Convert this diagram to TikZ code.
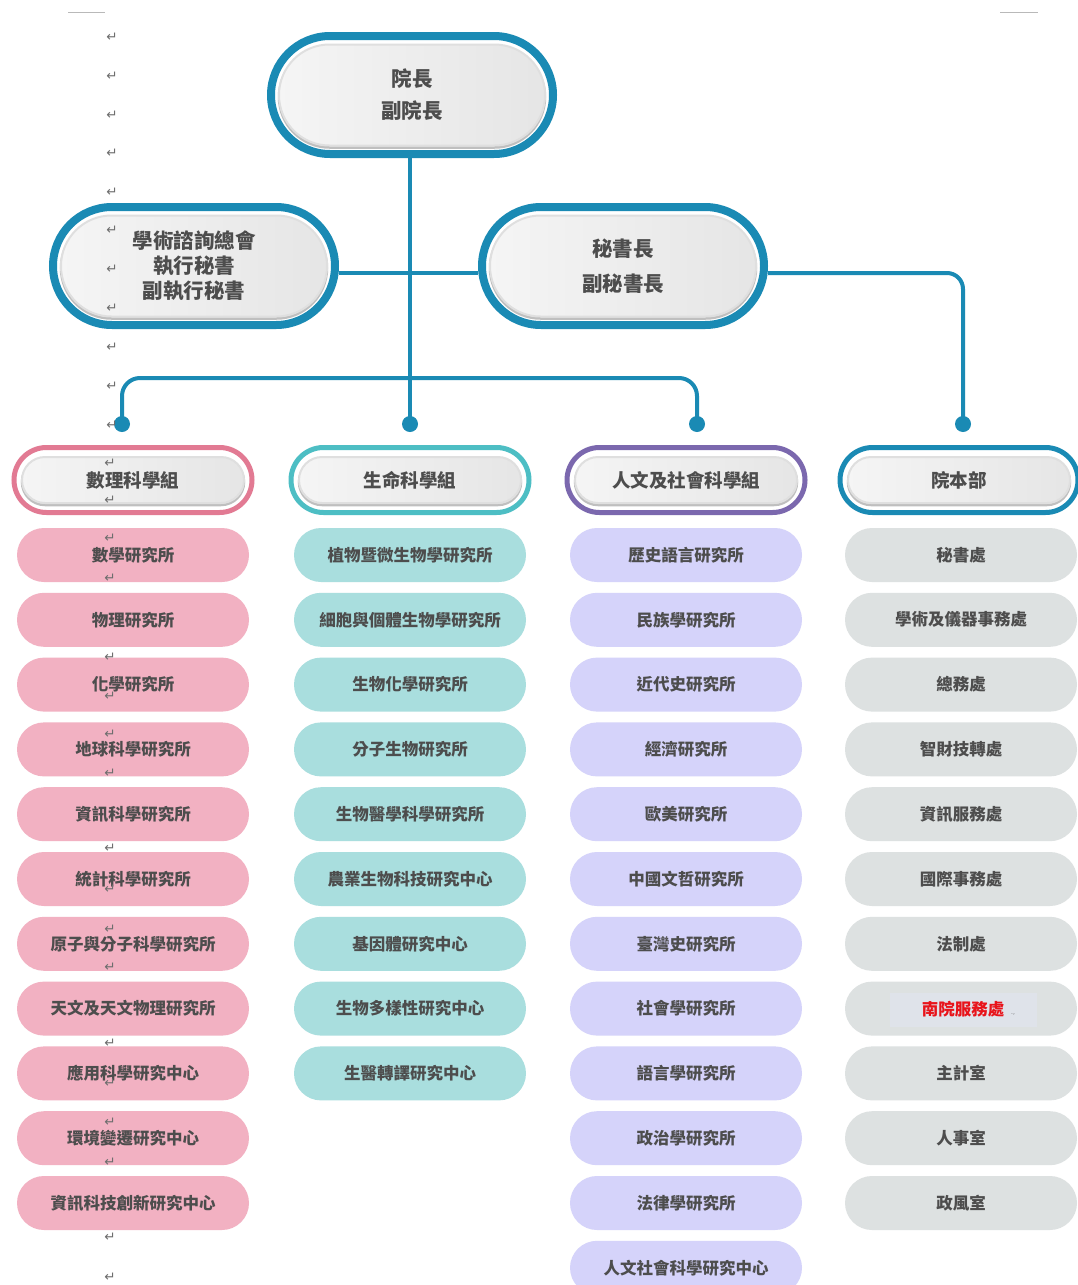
\documentclass[tikz,border=0pt]{standalone}
\usepackage{fontspec}
\newfontfamily\cjk{Noto Sans CJK TC}
\newfontfamily\symfont{DejaVu Sans}
\usetikzlibrary{shapes.misc,backgrounds}

\definecolor{lineblue}{HTML}{1A8AB4}
\definecolor{pinkline}{HTML}{E27A93}
\definecolor{pinkfill}{HTML}{F2B1C2}
\definecolor{tealline}{HTML}{4DBEC4}
\definecolor{tealfill}{HTML}{A9DEDE}
\definecolor{purpline}{HTML}{7B68AE}
\definecolor{purpfill}{HTML}{D5D3FA}
\definecolor{grayfill}{HTML}{DDE1E1}
\definecolor{txtgray}{HTML}{4D4D4D}
\definecolor{markgray}{HTML}{6E6E6E}
\definecolor{hlbox}{HTML}{DFE3EA}
\definecolor{redtxt}{HTML}{E8141B}

\tikzset{
  conn/.style={draw=lineblue, line width=4pt},
  junction/.style={circle, fill=lineblue, minimum size=16pt, inner sep=0pt},
  glossy/.style={rounded rectangle, inner sep=0pt, draw=gray!25, line width=2pt,
    left color=gray!8, middle color=white, right color=gray!20,
    preaction={draw=gray!50, line width=2.5pt, transform canvas={yshift=-2pt}}},
  chiefring/.style={rounded rectangle, draw=lineblue, line width=8pt, fill=white,
    minimum width=282pt, minimum height=118pt, inner sep=0pt},
  chiefcore/.style={glossy, minimum width=266pt, minimum height=101pt, align=center,
    text=txtgray, font=\cjk\bfseries\fontsize{20.5}{32}\selectfont},
  grpring/.style={rounded rectangle, line width=5pt, fill=white,
    minimum width=238pt, minimum height=65pt, inner sep=0pt},
  grpcore/.style={glossy, minimum width=222pt, minimum height=46pt,
    text=txtgray, font=\cjk\bfseries\fontsize{18.5}{22}\selectfont},
  unit/.style={rounded rectangle, inner sep=0pt, minimum width=232pt, minimum height=54pt,
    text=txtgray, font=\cjk\bfseries\fontsize{16.5}{20}\selectfont},
  pmark/.style={text=markgray, font=\symfont\fontsize{13.5}{13.5}\selectfont, inner sep=0pt},
}

\begin{document}
\begin{tikzpicture}[x=1pt,y=-1pt]
\useasboundingbox (0,0) rectangle (1078,1285);
\clip (0,0) rectangle (1078,1285);

% page corner marks
\draw[gray!55, line width=1pt] (68,12) -- (105,12);
\draw[gray!55, line width=1pt] (1000,12) -- (1038,12);

% leadership
\node[chiefring] (head) at (412,95) {};
\node[chiefcore] (headtxt) at (head) {院長\\副院長};

\node[chiefring] (advring) at (194,266) {};
\node[chiefcore, font=\cjk\bfseries\fontsize{20.5}{25}\selectfont] (advtxt) at (advring)
  {學術諮詢總會\\執行秘書\\副執行秘書};

\node[chiefring] (secring) at (623,266) {};
\node[chiefcore, font=\cjk\bfseries\fontsize{20.5}{35}\selectfont] (sectxt) at (secring)
  {秘書長\\副秘書長};

% junction dots
\node[junction] (d1) at (122,424) {};
\node[junction] (d2) at (410,424) {};
\node[junction] (d3) at (697,424) {};
\node[junction] (d4) at (963,424) {};
\coordinate (hl) at (410,273);
\coordinate (bus) at (410,378);

% division headers
\node[grpring, draw=pinkline] (g1) at (133,480) {};
\node[grpcore] (g1t) at (g1) {數理科學組};
\node[grpring, draw=tealline] (g2) at (410,480) {};
\node[grpcore] (g2t) at (g2) {生命科學組};
\node[grpring, draw=purpline] (g3) at (686,480) {};
\node[grpcore] (g3t) at (g3) {人文及社會科學組};
\node[grpring, draw=lineblue] (g4) at (959,480) {};
\node[grpcore] (g4t) at (g4) {院本部};

% institutes and offices
\foreach \name [count=\i from 0] in {數學研究所,物理研究所,化學研究所,地球科學研究所,資訊科學研究所,統計科學研究所,原子與分子科學研究所,天文及天文物理研究所,應用科學研究中心,環境變遷研究中心,資訊科技創新研究中心}
  \node[unit, fill=pinkfill] (ma\i) at (133,{555+64.8*\i}) {\name};

\foreach \name [count=\i from 0] in {植物暨微生物學研究所,細胞與個體生物學研究所,生物化學研究所,分子生物研究所,生物醫學科學研究所,農業生物科技研究中心,基因體研究中心,生物多樣性研究中心,生醫轉譯研究中心}
  \node[unit, fill=tealfill] (li\i) at (410,{555+64.8*\i}) {\name};

\foreach \name [count=\i from 0] in {歷史語言研究所,民族學研究所,近代史研究所,經濟研究所,歐美研究所,中國文哲研究所,臺灣史研究所,社會學研究所,語言學研究所,政治學研究所,法律學研究所,人文社會科學研究中心}
  \node[unit, fill=purpfill] (hu\i) at (686,{555+64.8*\i}) {\name};

\foreach \name [count=\i from 0] in {秘書處,學術及儀器事務處,總務處,智財技轉處,資訊服務處,國際事務處,法制處}
  \node[unit, fill=grayfill] (ad\i) at (961,{555+64.8*\i}) {\name};
\node[unit, fill=grayfill] (ad7) at (961,{555+64.8*7}) {};
\node[fill=hlbox, minimum width=147pt, minimum height=34pt, inner sep=0pt] (southhl) at (963,1010) {};
\node[text=redtxt, font=\cjk\bfseries\fontsize{16.5}{20}\selectfont, inner sep=0pt] (southtxt) at (963,1009) {南院服務處};
\node[pmark, font=\symfont\fontsize{6}{6}\selectfont] at (1013,1014) {.,};
\foreach \name [count=\i from 8] in {主計室,人事室,政風室}
  \node[unit, fill=grayfill] (ad\i) at (961,{555+64.8*\i}) {\name};

% paragraph marks down the left margin
\foreach \y in {37,76,115,153,192,230,269,308,347,386,425}
  \node[pmark] at (112,\y) {↵};
\foreach \y in {463,500,538,578,657,696,734,773,848,889,929,967,1043,1083,1122,1162,1237,1277}
  \node[pmark] at (110,\y) {↵};

% connectors, under the boxes
\begin{scope}[on background layer]
  \fill[white] (0,0) rectangle (1078,1285);
  \draw[conn] (d2 |- head.south) -- (d2.center);
  \draw[conn] (advring.east |- hl) -- (secring.west |- hl);
  \draw[conn, rounded corners=16pt] (secring.east |- hl) -- (d4 |- hl) -- (d4.center);
  \draw[conn, rounded corners=18pt] (d1.center) -- (d1 |- bus) -- (d3 |- bus) -- (d3.center);
\end{scope}
\end{tikzpicture}
\end{document}
